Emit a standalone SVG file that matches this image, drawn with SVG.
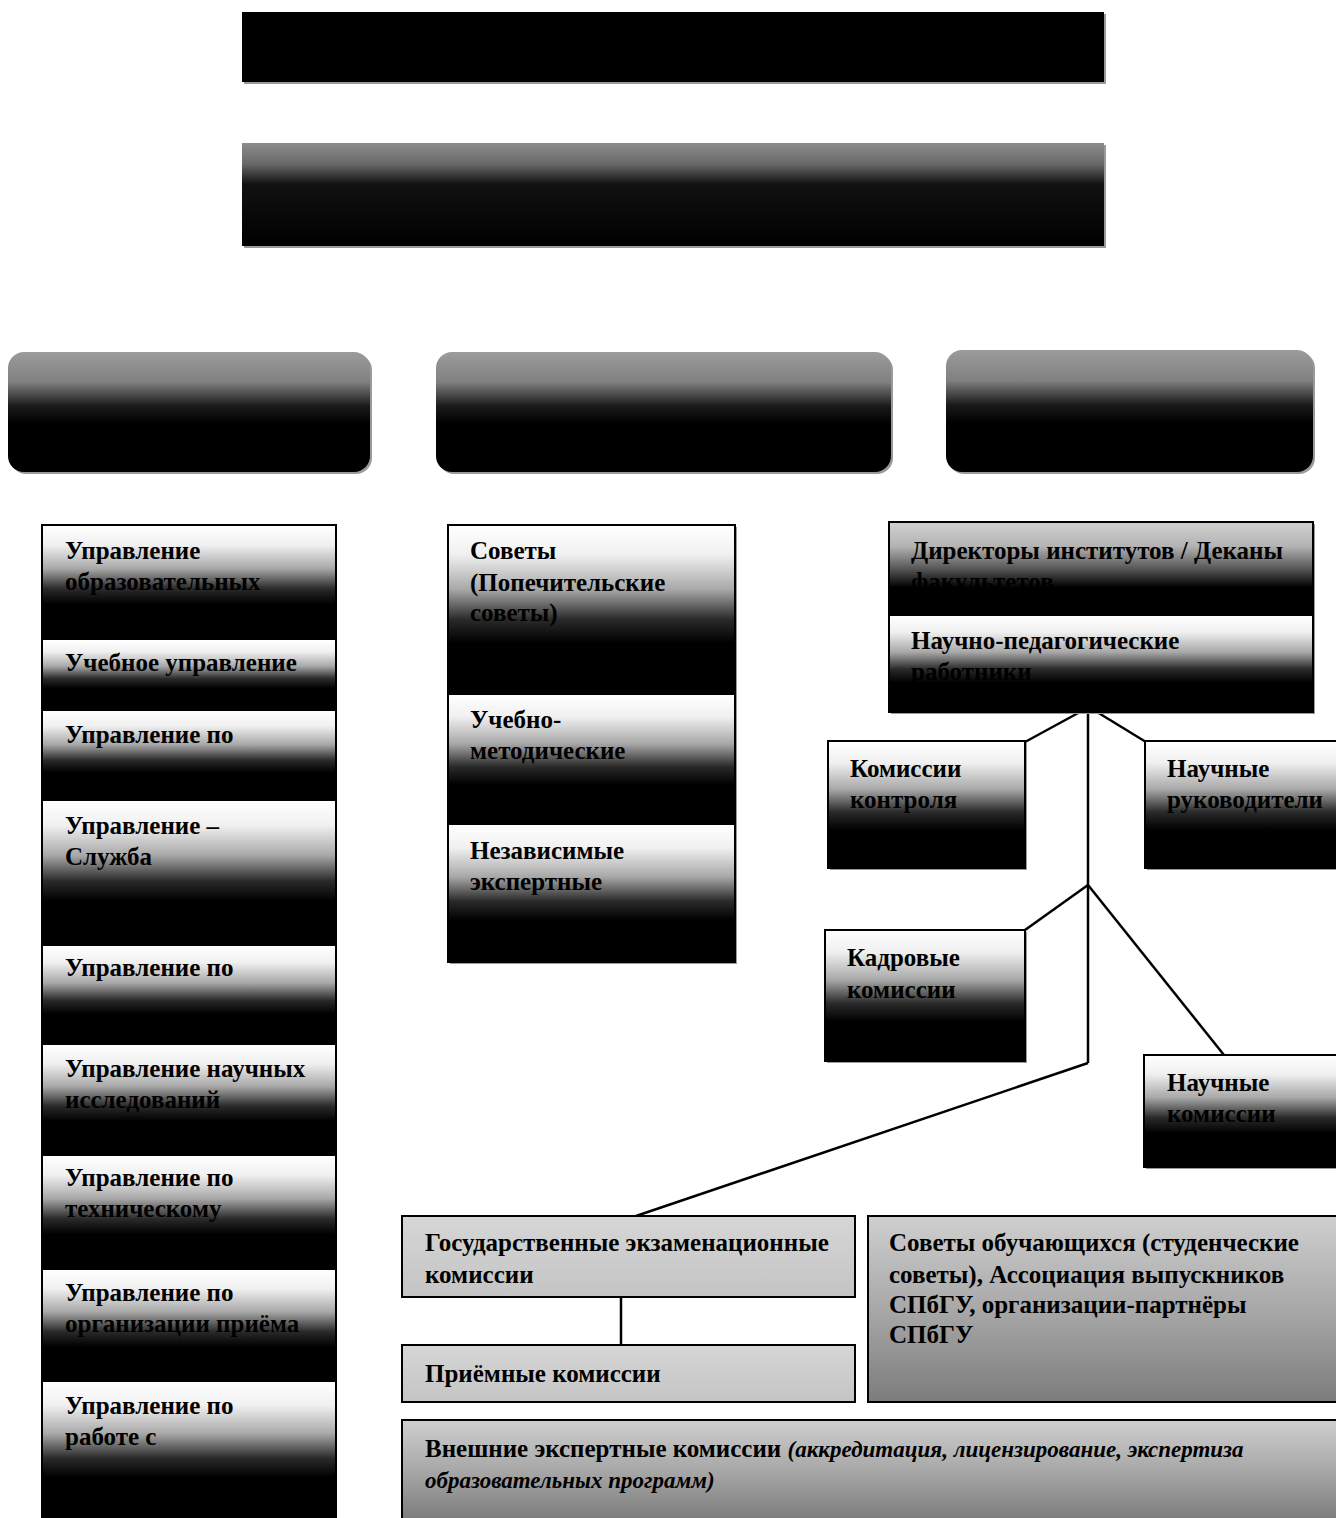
<svg xmlns="http://www.w3.org/2000/svg" width="1336" height="1518" viewBox="0 0 1336 1518">
<defs>
<linearGradient id="gWB" x1="0" y1="0" x2="0" y2="1">
<stop offset="0" stop-color="#ffffff"/>
<stop offset="0.17" stop-color="#f0f0f0"/>
<stop offset="0.38" stop-color="#a8a8a8"/>
<stop offset="0.56" stop-color="#2a2a2a"/>
<stop offset="0.7" stop-color="#000"/>
<stop offset="1" stop-color="#000"/>
</linearGradient>
<linearGradient id="gGB" x1="0" y1="0" x2="0" y2="1">
<stop offset="0" stop-color="#cfcfcf"/>
<stop offset="0.25" stop-color="#b4b4b4"/>
<stop offset="0.5" stop-color="#555"/>
<stop offset="0.7" stop-color="#000"/>
<stop offset="1" stop-color="#000"/>
</linearGradient>
<linearGradient id="gHead" x1="0" y1="0" x2="0" y2="1">
<stop offset="0" stop-color="#9c9c9c"/>
<stop offset="0.25" stop-color="#808080"/>
<stop offset="0.45" stop-color="#1a1a1a"/>
<stop offset="0.6" stop-color="#000"/>
<stop offset="1" stop-color="#000"/>
</linearGradient>
<linearGradient id="gTop2" x1="0" y1="0" x2="0" y2="1">
<stop offset="0" stop-color="#8c8c8c"/>
<stop offset="0.2" stop-color="#6a6a6a"/>
<stop offset="0.4" stop-color="#111"/>
<stop offset="1" stop-color="#000"/>
</linearGradient>
<linearGradient id="gLight" x1="0" y1="0" x2="0" y2="1">
<stop offset="0" stop-color="#d6d6d6"/>
<stop offset="1" stop-color="#c4c4c4"/>
</linearGradient>
<linearGradient id="gMid" x1="0" y1="0" x2="0" y2="1">
<stop offset="0" stop-color="#cfcfcf"/>
<stop offset="0.5" stop-color="#a8a8a8"/>
<stop offset="1" stop-color="#7c7c7c"/>
</linearGradient>
</defs>
<style>
.t{font-family:"Liberation Serif","Times New Roman",serif;font-size:25px;font-weight:bold;fill:#000}
.it{font-family:"Liberation Serif","Times New Roman",serif;font-size:23px;font-weight:bold;font-style:italic;fill:#000}
.bx{stroke:#000;stroke-width:2}
.sh{fill:#9a9a9a}
.ln{stroke:#000;stroke-width:2.5;fill:none}
</style>
<rect width="1336" height="1518" fill="#fff"/>

<g id="top1">
<rect x="244" y="14" width="862" height="70" class="sh"/>
<rect x="242" y="12" width="862" height="70" fill="#000"/>
</g>
<g id="top2">
<rect x="244" y="145" width="862" height="103" class="sh"/>
<rect x="242" y="143" width="862" height="103" fill="url(#gTop2)"/>
</g>

<g id="headA">
<rect x="10" y="354" width="362" height="120" rx="16" class="sh"/>
<rect x="8" y="352" width="362" height="120" rx="16" fill="url(#gHead)"/>
</g>
<g id="headB">
<rect x="438" y="354" width="455" height="120" rx="16" class="sh"/>
<rect x="436" y="352" width="455" height="120" rx="16" fill="url(#gHead)"/>
</g>
<g id="headC">
<rect x="948" y="352" width="367" height="122" rx="16" class="sh"/>
<rect x="946" y="350" width="367" height="122" rx="16" fill="url(#gHead)"/>
</g>

<g id="left-column">
<rect x="42" y="525" width="294" height="993" fill="#000" class="bx"/>
<g id="l1"><rect x="43" y="526" width="292" height="112" fill="url(#gWB)"/>
<text class="t" x="65" y="559">Управление</text><text class="t" x="65" y="590">образовательных</text></g>
<g id="l2"><rect x="43" y="640" width="292" height="69" fill="url(#gWB)"/>
<text class="t" x="65" y="671">Учебное управление</text></g>
<g id="l3"><rect x="43" y="711" width="292" height="88" fill="url(#gWB)"/>
<text class="t" x="65" y="743">Управление по</text></g>
<g id="l4"><rect x="43" y="801" width="292" height="143" fill="url(#gWB)"/>
<text class="t" x="65" y="834">Управление –</text><text class="t" x="65" y="865">Служба</text></g>
<g id="l5"><rect x="43" y="946" width="292" height="97" fill="url(#gWB)"/>
<text class="t" x="65" y="976">Управление по</text></g>
<g id="l6"><rect x="43" y="1045" width="292" height="109" fill="url(#gWB)"/>
<text class="t" x="65" y="1077">Управление научных</text><text class="t" x="65" y="1108">исследований</text></g>
<g id="l7"><rect x="43" y="1156" width="292" height="112" fill="url(#gWB)"/>
<text class="t" x="65" y="1186">Управление по</text><text class="t" x="65" y="1217">техническому</text></g>
<g id="l8"><rect x="43" y="1270" width="292" height="110" fill="url(#gWB)"/>
<text class="t" x="65" y="1301">Управление по</text><text class="t" x="65" y="1332">организации приёма</text></g>
<g id="l9"><rect x="43" y="1382" width="292" height="136" fill="url(#gWB)"/>
<text class="t" x="65" y="1414">Управление по</text><text class="t" x="65" y="1445">работе с</text></g>
</g>

<g id="mid-column">
<rect x="450" y="527" width="287" height="437" class="sh"/>
<rect x="448" y="525" width="287" height="437" fill="#000" class="bx"/>
<g id="m1"><rect x="449" y="526" width="285" height="167" fill="url(#gWB)"/>
<text class="t" x="470" y="559">Советы</text><text class="t" x="470" y="591">(Попечительские</text><text class="t" x="470" y="621">советы)</text></g>
<g id="m2"><rect x="449" y="695" width="285" height="128" fill="url(#gWB)"/>
<text class="t" x="470" y="728">Учебно-</text><text class="t" x="470" y="759">методические</text></g>
<g id="m3"><rect x="449" y="825" width="285" height="136" fill="url(#gWB)"/>
<text class="t" x="470" y="859">Независимые</text><text class="t" x="470" y="890">экспертные</text></g>
</g>

<g id="connectors">
<line class="ln" x1="1080" y1="712" x2="1025" y2="742"/>
<line class="ln" x1="1097" y1="712" x2="1146" y2="742"/>
<line class="ln" x1="1088" y1="712" x2="1088" y2="1063"/>
<line class="ln" x1="1088" y1="885" x2="1025" y2="930"/>
<line class="ln" x1="1088" y1="885" x2="1224" y2="1055"/>
<line class="ln" x1="1088" y1="1063" x2="636" y2="1216"/>
<line class="ln" x1="621" y1="1297" x2="621" y2="1345"/>
</g>

<g id="deans">
<rect x="891" y="524" width="424" height="190" class="sh"/>
<rect x="889" y="522" width="424" height="190" fill="#000" class="bx"/>
<rect x="890" y="523" width="422" height="92" fill="url(#gGB)"/>
<rect x="890" y="616" width="422" height="95" fill="url(#gWB)"/>
<text class="t" x="911" y="559">Директоры институтов / Деканы</text>
<text class="t" x="911" y="590">факультетов</text>
<text class="t" x="911" y="649">Научно-педагогические</text>
<text class="t" x="911" y="680">работники</text>
</g>

<g id="control">
<rect x="830" y="743" width="197" height="127" class="sh"/>
<rect x="828" y="741" width="197" height="127" fill="url(#gWB)" class="bx"/>
<text class="t" x="850" y="777">Комиссии</text><text class="t" x="850" y="808">контроля</text>
</g>
<g id="supervisors">
<rect x="1147" y="743" width="191" height="127" class="sh"/>
<rect x="1145" y="741" width="193" height="127" fill="url(#gWB)" class="bx"/>
<text class="t" x="1167" y="777">Научные</text><text class="t" x="1167" y="808">руководители</text>
</g>
<g id="personnel">
<rect x="827" y="932" width="200" height="131" class="sh"/>
<rect x="825" y="930" width="200" height="131" fill="url(#gWB)" class="bx"/>
<text class="t" x="847" y="966">Кадровые</text><text class="t" x="847" y="998">комиссии</text>
</g>
<g id="sci-comm">
<rect x="1146" y="1057" width="192" height="112" class="sh"/>
<rect x="1144" y="1055" width="194" height="112" fill="url(#gWB)" class="bx"/>
<text class="t" x="1167" y="1091">Научные</text><text class="t" x="1167" y="1122">комиссии</text>
</g>

<g id="gek">
<rect x="402" y="1216" width="453" height="81" fill="url(#gLight)" class="bx"/>
<text class="t" x="425" y="1251">Государственные экзаменационные</text>
<text class="t" x="425" y="1283">комиссии</text>
</g>
<g id="admission">
<rect x="402" y="1345" width="453" height="57" fill="url(#gLight)" class="bx"/>
<text class="t" x="425" y="1382">Приёмные комиссии</text>
</g>
<g id="students">
<rect x="868" y="1216" width="470" height="186" fill="url(#gMid)" class="bx"/>
<text class="t" x="889" y="1251">Советы обучающихся (студенческие</text>
<text class="t" x="889" y="1283">советы), Ассоциация выпускников</text>
<text class="t" x="889" y="1313">СПбГУ, организации-партнёры</text>
<text class="t" x="889" y="1343">СПбГУ</text>
</g>
<g id="external">
<rect x="402" y="1420" width="936" height="100" fill="url(#gMid)" class="bx"/>
<text x="425" y="1457"><tspan class="t">Внешние экспертные комиссии </tspan><tspan class="it">(аккредитация, лицензирование, экспертиза</tspan></text>
<text class="it" x="425" y="1488">образовательных программ)</text>
</g>
</svg>
